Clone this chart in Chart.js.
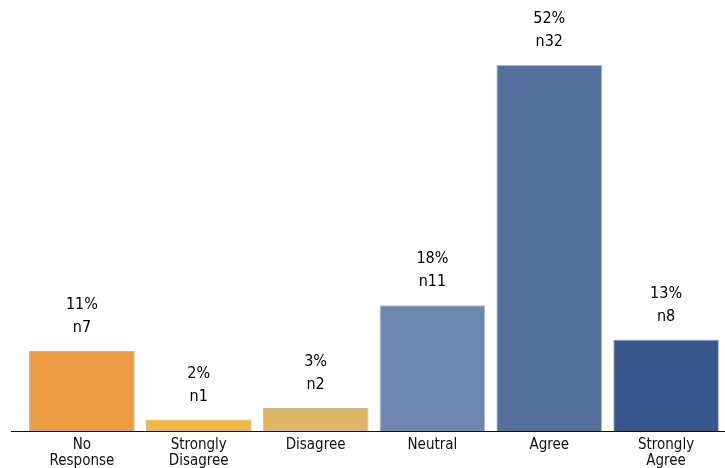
<!DOCTYPE html>
<html>
<head>
<meta charset="utf-8">
<script src="https://cdn.jsdelivr.net/npm/chart.js@4/dist/chart.umd.min.js"></script>
<style>
html,body{margin:0;padding:0;background:#fff;}
#wrap{width:725px;height:468px;position:relative;}
</style>
</head>
<body>
<div id="wrap"><canvas id="c"></canvas></div>
<script>
const categories = [["No","Response"],["Strongly","Disagree"],"Disagree","Neutral","Agree",["Strongly","Agree"]];
const counts = [7, 1, 2, 11, 32, 8];
const percents = [11, 2, 3, 18, 52, 13];
const colors = ["#EC9D42","#F1B744","#E0B766","#6F86AE","#546E9E","#37578D"];
const FONT = '"DejaVu Sans Condensed", "DejaVu Sans"';

const labelPlugin = {
  id: 'barLabels',
  afterDatasetsDraw(chart) {
    const ctx = chart.ctx;
    const meta = chart.getDatasetMeta(0);
    ctx.save();
    ctx.fillStyle = '#000';
    ctx.font = '16px ' + FONT;
    ctx.textAlign = 'center';
    ctx.textBaseline = 'middle';
    meta.data.forEach((bar, i) => {
      ctx.fillText('n' + counts[i], bar.x, bar.y - 23);
      ctx.fillText(percents[i] + '%', bar.x, bar.y - 46);
    });
    const y = Math.round(chart.chartArea.bottom) + 0.5;
    ctx.strokeStyle = '#111';
    ctx.lineWidth = 1.2;
    ctx.beginPath();
    ctx.moveTo(11, y);
    ctx.lineTo(chart.width, y);
    ctx.stroke();
    ctx.restore();
  }
};

new Chart(document.getElementById('c'), {
  type: 'bar',
  data: {
    labels: categories,
    datasets: [{
      data: counts,
      backgroundColor: colors,
      borderColor: '#B8B8B8',
      borderWidth: 1,
      barPercentage: 0.905,
      categoryPercentage: 1.0
    }]
  },
  options: {
    responsive: true,
    maintainAspectRatio: false,
    animation: false,
    layout: { padding: { left: 23.5, right: 0.5, top: 0, bottom: 0 } },
    plugins: { legend: { display: false }, tooltip: { enabled: false } },
    scales: {
      x: {
        grid: { display: false, drawTicks: false },
        border: { display: false },
        afterFit(scale) { scale.height = 37; },
        ticks: {
          color: '#111',
          font: { family: FONT, size: 15, lineHeight: 1.07 },
          maxRotation: 0,
          autoSkip: false,
          padding: 6
        }
      },
      y: {
        display: false,
        min: 0,
        max: 37.68
      }
    }
  },
  plugins: [labelPlugin]
});
</script>
</body>
</html>
